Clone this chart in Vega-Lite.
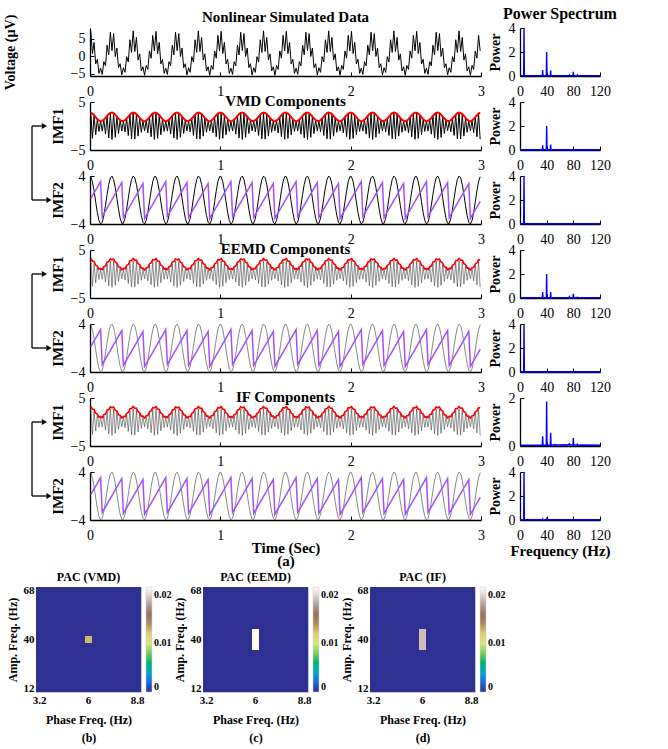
{
"$schema":"https://vega.github.io/schema/vega-lite/v6.json",
"background":"#ffffff",
"padding":{"left":3,"top":6,"right":5,"bottom":2},
"config":{
 "font":"Liberation Serif",
 "view":{"stroke":null},
 "axis":{"domainColor":"#000","domainWidth":1.3,"tickColor":"#000","tickWidth":1,"tickSize":-4,"labelFont":"Liberation Serif","labelFontSize":14,"labelColor":"#000","titleFont":"Liberation Serif","titleFontSize":15,"titleFontWeight":"bold","titleColor":"#000","grid":false,"labelOverlap":false},
 "axisX":{"labelPadding":12,"labelFlush":false,"labelAngle":0},
 "axisY":{"labelPadding":9},
 "title":{"font":"Liberation Serif","fontSize":15,"fontWeight":"bold","color":"#000","frame":"group","anchor":"middle"},
 "legend":{"labelFont":"Liberation Serif","labelFontSize":10,"labelFontWeight":"bold","labelColor":"#000","gradientLength":105,"gradientThickness":6,"offset":5,"padding":0,"gradientStrokeColor":"#cccccc","gradientStrokeWidth":0.5,"labelOffset":3}
},
"datasets":{
"ts":[
{"t":0.00625,"r":7.06,"c":2.78,"e":2.78,"j":3.22,"s":3.89,"p":0.24},
{"t":0.01875,"r":0.76,"c":-2.58,"e":2.58,"j":2.70,"s":3.04,"p":0.71},
{"t":0.03125,"r":3.92,"c":2.24,"e":2.24,"j":2.60,"s":1.53,"p":1.18},
{"t":0.04375,"r":-2.17,"c":-1.83,"e":1.83,"j":1.82,"s":-0.31,"p":1.65},
{"t":0.05625,"r":-0.87,"c":1.43,"e":1.43,"j":1.65,"s":-2.09,"p":2.12},
{"t":0.06875,"r":-4.88,"c":-1.13,"e":1.13,"j":1.01,"s":-3.41,"p":2.59},
{"t":0.08125,"r":-3.39,"c":1.00,"e":1.00,"j":1.15,"s":-3.99,"p":3.06},
{"t":0.09375,"r":-5.14,"c":-1.07,"e":1.07,"j":0.93,"s":-3.70,"p":-2.75},
{"t":0.10625,"r":-1.54,"c":1.32,"e":1.32,"j":1.52,"s":-2.60,"p":-2.28},
{"t":0.11875,"r":-2.71,"c":-1.69,"e":1.69,"j":1.66,"s":-0.93,"p":-1.81},
{"t":0.13125,"r":3.13,"c":2.11,"e":2.11,"j":2.45,"s":0.93,"p":-1.34},
{"t":0.14375,"r":0.38,"c":-2.48,"e":2.48,"j":2.58,"s":2.60,"p":-0.86},
{"t":0.15625,"r":6.80,"c":2.73,"e":2.73,"j":3.17,"s":3.70,"p":-0.39},
{"t":0.16875,"r":1.59,"c":-2.80,"e":2.80,"j":2.95,"s":3.99,"p":0.08},
{"t":0.18125,"r":6.42,"c":2.67,"e":2.67,"j":3.10,"s":3.41,"p":0.55},
{"t":0.19375,"r":-0.07,"c":-2.37,"e":2.37,"j":2.45,"s":2.09,"p":1.02},
{"t":0.20625,"r":2.31,"c":1.97,"e":1.97,"j":2.28,"s":0.31,"p":1.49},
{"t":0.21875,"r":-3.24,"c":-1.56,"e":1.56,"j":1.50,"s":-1.53,"p":1.96},
{"t":0.23125,"r":-2.12,"c":1.22,"e":1.22,"j":1.40,"s":-3.04,"p":2.44},
{"t":0.24375,"r":-5.30,"c":-1.02,"e":1.02,"j":0.88,"s":-3.89,"p":2.91},
{"t":0.25625,"r":-3.26,"c":1.02,"e":1.02,"j":1.18,"s":-3.89,"p":-2.91},
{"t":0.26875,"r":-4.56,"c":-1.22,"e":1.22,"j":1.10,"s":-3.04,"p":-2.44},
{"t":0.28125,"r":-0.12,"c":1.56,"e":1.56,"j":1.80,"s":-1.53,"p":-1.96},
{"t":0.29375,"r":-1.63,"c":-1.97,"e":1.97,"j":1.98,"s":0.31,"p":-1.49},
{"t":0.30625,"r":4.67,"c":2.37,"e":2.37,"j":2.75,"s":2.09,"p":-1.02},
{"t":0.31875,"r":1.08,"c":-2.67,"e":2.67,"j":2.80,"s":3.41,"p":-0.55},
{"t":0.33125,"r":7.19,"c":2.80,"e":2.80,"j":3.25,"s":3.99,"p":-0.08},
{"t":0.34375,"r":1.34,"c":-2.73,"e":2.73,"j":2.87,"s":3.70,"p":0.39},
{"t":0.35625,"r":5.34,"c":2.48,"e":2.48,"j":2.88,"s":2.60,"p":0.86},
{"t":0.36875,"r":-1.09,"c":-2.11,"e":2.11,"j":2.15,"s":0.93,"p":1.34},
{"t":0.38125,"r":0.67,"c":1.69,"e":1.69,"j":1.96,"s":-0.93,"p":1.81},
{"t":0.39375,"r":-4.18,"c":-1.32,"e":1.32,"j":1.22,"s":-2.60,"p":2.28},
{"t":0.40625,"r":-3.00,"c":1.07,"e":1.07,"j":1.23,"s":-3.70,"p":2.75},
{"t":0.41875,"r":-5.39,"c":-1.00,"e":1.00,"j":0.85,"s":-3.99,"p":-3.06},
{"t":0.43125,"r":-2.62,"c":1.13,"e":1.13,"j":1.31,"s":-3.41,"p":-2.59},
{"t":0.44375,"r":-3.73,"c":-1.43,"e":1.43,"j":1.35,"s":-2.09,"p":-2.12},
{"t":0.45625,"r":1.49,"c":1.83,"e":1.83,"j":2.12,"s":-0.31,"p":-1.65},
{"t":0.46875,"r":-0.56,"c":-2.24,"e":2.24,"j":2.30,"s":1.53,"p":-1.18},
{"t":0.48125,"r":5.92,"c":2.58,"e":2.58,"j":3.00,"s":3.04,"p":-0.71},
{"t":0.49375,"r":1.50,"c":-2.78,"e":2.78,"j":2.92,"s":3.89,"p":-0.24},
{"t":0.50625,"r":7.06,"c":2.78,"e":2.78,"j":3.22,"s":3.89,"p":0.24},
{"t":0.51875,"r":0.76,"c":-2.58,"e":2.58,"j":2.70,"s":3.04,"p":0.71},
{"t":0.53125,"r":3.92,"c":2.24,"e":2.24,"j":2.60,"s":1.53,"p":1.18},
{"t":0.54375,"r":-2.17,"c":-1.83,"e":1.83,"j":1.82,"s":-0.31,"p":1.65},
{"t":0.55625,"r":-0.87,"c":1.43,"e":1.43,"j":1.65,"s":-2.09,"p":2.12},
{"t":0.56875,"r":-4.88,"c":-1.13,"e":1.13,"j":1.01,"s":-3.41,"p":2.59},
{"t":0.58125,"r":-3.39,"c":1.00,"e":1.00,"j":1.15,"s":-3.99,"p":3.06},
{"t":0.59375,"r":-5.14,"c":-1.07,"e":1.07,"j":0.93,"s":-3.70,"p":-2.75},
{"t":0.60625,"r":-1.54,"c":1.32,"e":1.32,"j":1.52,"s":-2.60,"p":-2.28},
{"t":0.61875,"r":-2.71,"c":-1.69,"e":1.69,"j":1.66,"s":-0.93,"p":-1.81},
{"t":0.63125,"r":3.13,"c":2.11,"e":2.11,"j":2.45,"s":0.93,"p":-1.34},
{"t":0.64375,"r":0.38,"c":-2.48,"e":2.48,"j":2.58,"s":2.60,"p":-0.86},
{"t":0.65625,"r":6.80,"c":2.73,"e":2.73,"j":3.17,"s":3.70,"p":-0.39},
{"t":0.66875,"r":1.59,"c":-2.80,"e":2.80,"j":2.95,"s":3.99,"p":0.08},
{"t":0.68125,"r":6.42,"c":2.67,"e":2.67,"j":3.10,"s":3.41,"p":0.55},
{"t":0.69375,"r":-0.07,"c":-2.37,"e":2.37,"j":2.45,"s":2.09,"p":1.02},
{"t":0.70625,"r":2.31,"c":1.97,"e":1.97,"j":2.28,"s":0.31,"p":1.49},
{"t":0.71875,"r":-3.24,"c":-1.56,"e":1.56,"j":1.50,"s":-1.53,"p":1.96},
{"t":0.73125,"r":-2.12,"c":1.22,"e":1.22,"j":1.40,"s":-3.04,"p":2.44},
{"t":0.74375,"r":-5.30,"c":-1.02,"e":1.02,"j":0.88,"s":-3.89,"p":2.91},
{"t":0.75625,"r":-3.26,"c":1.02,"e":1.02,"j":1.18,"s":-3.89,"p":-2.91},
{"t":0.76875,"r":-4.56,"c":-1.22,"e":1.22,"j":1.10,"s":-3.04,"p":-2.44},
{"t":0.78125,"r":-0.12,"c":1.56,"e":1.56,"j":1.80,"s":-1.53,"p":-1.96},
{"t":0.79375,"r":-1.63,"c":-1.97,"e":1.97,"j":1.98,"s":0.31,"p":-1.49},
{"t":0.80625,"r":4.67,"c":2.37,"e":2.37,"j":2.75,"s":2.09,"p":-1.02},
{"t":0.81875,"r":1.08,"c":-2.67,"e":2.67,"j":2.80,"s":3.41,"p":-0.55},
{"t":0.83125,"r":7.19,"c":2.80,"e":2.80,"j":3.25,"s":3.99,"p":-0.08},
{"t":0.84375,"r":1.34,"c":-2.73,"e":2.73,"j":2.87,"s":3.70,"p":0.39},
{"t":0.85625,"r":5.34,"c":2.48,"e":2.48,"j":2.88,"s":2.60,"p":0.86},
{"t":0.86875,"r":-1.09,"c":-2.11,"e":2.11,"j":2.15,"s":0.93,"p":1.34},
{"t":0.88125,"r":0.67,"c":1.69,"e":1.69,"j":1.96,"s":-0.93,"p":1.81},
{"t":0.89375,"r":-4.18,"c":-1.32,"e":1.32,"j":1.22,"s":-2.60,"p":2.28},
{"t":0.90625,"r":-3.00,"c":1.07,"e":1.07,"j":1.23,"s":-3.70,"p":2.75},
{"t":0.91875,"r":-5.39,"c":-1.00,"e":1.00,"j":0.85,"s":-3.99,"p":-3.06},
{"t":0.93125,"r":-2.62,"c":1.13,"e":1.13,"j":1.31,"s":-3.41,"p":-2.59},
{"t":0.94375,"r":-3.73,"c":-1.43,"e":1.43,"j":1.35,"s":-2.09,"p":-2.12},
{"t":0.95625,"r":1.49,"c":1.83,"e":1.83,"j":2.12,"s":-0.31,"p":-1.65},
{"t":0.96875,"r":-0.56,"c":-2.24,"e":2.24,"j":2.30,"s":1.53,"p":-1.18},
{"t":0.98125,"r":5.92,"c":2.58,"e":2.58,"j":3.00,"s":3.04,"p":-0.71},
{"t":0.99375,"r":1.50,"c":-2.78,"e":2.78,"j":2.92,"s":3.89,"p":-0.24},
{"t":1.00625,"r":7.06,"c":2.78,"e":2.78,"j":3.22,"s":3.89,"p":0.24},
{"t":1.01875,"r":0.76,"c":-2.58,"e":2.58,"j":2.70,"s":3.04,"p":0.71},
{"t":1.03125,"r":3.92,"c":2.24,"e":2.24,"j":2.60,"s":1.53,"p":1.18},
{"t":1.04375,"r":-2.17,"c":-1.83,"e":1.83,"j":1.82,"s":-0.31,"p":1.65},
{"t":1.05625,"r":-0.87,"c":1.43,"e":1.43,"j":1.65,"s":-2.09,"p":2.12},
{"t":1.06875,"r":-4.88,"c":-1.13,"e":1.13,"j":1.01,"s":-3.41,"p":2.59},
{"t":1.08125,"r":-3.39,"c":1.00,"e":1.00,"j":1.15,"s":-3.99,"p":3.06},
{"t":1.09375,"r":-5.14,"c":-1.07,"e":1.07,"j":0.93,"s":-3.70,"p":-2.75},
{"t":1.10625,"r":-1.54,"c":1.32,"e":1.32,"j":1.52,"s":-2.60,"p":-2.28},
{"t":1.11875,"r":-2.71,"c":-1.69,"e":1.69,"j":1.66,"s":-0.93,"p":-1.81},
{"t":1.13125,"r":3.13,"c":2.11,"e":2.11,"j":2.45,"s":0.93,"p":-1.34},
{"t":1.14375,"r":0.38,"c":-2.48,"e":2.48,"j":2.58,"s":2.60,"p":-0.86},
{"t":1.15625,"r":6.80,"c":2.73,"e":2.73,"j":3.17,"s":3.70,"p":-0.39},
{"t":1.16875,"r":1.59,"c":-2.80,"e":2.80,"j":2.95,"s":3.99,"p":0.08},
{"t":1.18125,"r":6.42,"c":2.67,"e":2.67,"j":3.10,"s":3.41,"p":0.55},
{"t":1.19375,"r":-0.07,"c":-2.37,"e":2.37,"j":2.45,"s":2.09,"p":1.02},
{"t":1.20625,"r":2.31,"c":1.97,"e":1.97,"j":2.28,"s":0.31,"p":1.49},
{"t":1.21875,"r":-3.24,"c":-1.56,"e":1.56,"j":1.50,"s":-1.53,"p":1.96},
{"t":1.23125,"r":-2.12,"c":1.22,"e":1.22,"j":1.40,"s":-3.04,"p":2.44},
{"t":1.24375,"r":-5.30,"c":-1.02,"e":1.02,"j":0.88,"s":-3.89,"p":2.91},
{"t":1.25625,"r":-3.26,"c":1.02,"e":1.02,"j":1.18,"s":-3.89,"p":-2.91},
{"t":1.26875,"r":-4.56,"c":-1.22,"e":1.22,"j":1.10,"s":-3.04,"p":-2.44},
{"t":1.28125,"r":-0.12,"c":1.56,"e":1.56,"j":1.80,"s":-1.53,"p":-1.96},
{"t":1.29375,"r":-1.63,"c":-1.97,"e":1.97,"j":1.98,"s":0.31,"p":-1.49},
{"t":1.30625,"r":4.67,"c":2.37,"e":2.37,"j":2.75,"s":2.09,"p":-1.02},
{"t":1.31875,"r":1.08,"c":-2.67,"e":2.67,"j":2.80,"s":3.41,"p":-0.55},
{"t":1.33125,"r":7.19,"c":2.80,"e":2.80,"j":3.25,"s":3.99,"p":-0.08},
{"t":1.34375,"r":1.34,"c":-2.73,"e":2.73,"j":2.87,"s":3.70,"p":0.39},
{"t":1.35625,"r":5.34,"c":2.48,"e":2.48,"j":2.88,"s":2.60,"p":0.86},
{"t":1.36875,"r":-1.09,"c":-2.11,"e":2.11,"j":2.15,"s":0.93,"p":1.34},
{"t":1.38125,"r":0.67,"c":1.69,"e":1.69,"j":1.96,"s":-0.93,"p":1.81},
{"t":1.39375,"r":-4.18,"c":-1.32,"e":1.32,"j":1.22,"s":-2.60,"p":2.28},
{"t":1.40625,"r":-3.00,"c":1.07,"e":1.07,"j":1.23,"s":-3.70,"p":2.75},
{"t":1.41875,"r":-5.39,"c":-1.00,"e":1.00,"j":0.85,"s":-3.99,"p":-3.06},
{"t":1.43125,"r":-2.62,"c":1.13,"e":1.13,"j":1.31,"s":-3.41,"p":-2.59},
{"t":1.44375,"r":-3.73,"c":-1.43,"e":1.43,"j":1.35,"s":-2.09,"p":-2.12},
{"t":1.45625,"r":1.49,"c":1.83,"e":1.83,"j":2.12,"s":-0.31,"p":-1.65},
{"t":1.46875,"r":-0.56,"c":-2.24,"e":2.24,"j":2.30,"s":1.53,"p":-1.18},
{"t":1.48125,"r":5.92,"c":2.58,"e":2.58,"j":3.00,"s":3.04,"p":-0.71},
{"t":1.49375,"r":1.50,"c":-2.78,"e":2.78,"j":2.92,"s":3.89,"p":-0.24},
{"t":1.50625,"r":7.06,"c":2.78,"e":2.78,"j":3.22,"s":3.89,"p":0.24},
{"t":1.51875,"r":0.76,"c":-2.58,"e":2.58,"j":2.70,"s":3.04,"p":0.71},
{"t":1.53125,"r":3.92,"c":2.24,"e":2.24,"j":2.60,"s":1.53,"p":1.18},
{"t":1.54375,"r":-2.17,"c":-1.83,"e":1.83,"j":1.82,"s":-0.31,"p":1.65},
{"t":1.55625,"r":-0.87,"c":1.43,"e":1.43,"j":1.65,"s":-2.09,"p":2.12},
{"t":1.56875,"r":-4.88,"c":-1.13,"e":1.13,"j":1.01,"s":-3.41,"p":2.59},
{"t":1.58125,"r":-3.39,"c":1.00,"e":1.00,"j":1.15,"s":-3.99,"p":3.06},
{"t":1.59375,"r":-5.14,"c":-1.07,"e":1.07,"j":0.93,"s":-3.70,"p":-2.75},
{"t":1.60625,"r":-1.54,"c":1.32,"e":1.32,"j":1.52,"s":-2.60,"p":-2.28},
{"t":1.61875,"r":-2.71,"c":-1.69,"e":1.69,"j":1.66,"s":-0.93,"p":-1.81},
{"t":1.63125,"r":3.13,"c":2.11,"e":2.11,"j":2.45,"s":0.93,"p":-1.34},
{"t":1.64375,"r":0.38,"c":-2.48,"e":2.48,"j":2.58,"s":2.60,"p":-0.86},
{"t":1.65625,"r":6.80,"c":2.73,"e":2.73,"j":3.17,"s":3.70,"p":-0.39},
{"t":1.66875,"r":1.59,"c":-2.80,"e":2.80,"j":2.95,"s":3.99,"p":0.08},
{"t":1.68125,"r":6.42,"c":2.67,"e":2.67,"j":3.10,"s":3.41,"p":0.55},
{"t":1.69375,"r":-0.07,"c":-2.37,"e":2.37,"j":2.45,"s":2.09,"p":1.02},
{"t":1.70625,"r":2.31,"c":1.97,"e":1.97,"j":2.28,"s":0.31,"p":1.49},
{"t":1.71875,"r":-3.24,"c":-1.56,"e":1.56,"j":1.50,"s":-1.53,"p":1.96},
{"t":1.73125,"r":-2.12,"c":1.22,"e":1.22,"j":1.40,"s":-3.04,"p":2.44},
{"t":1.74375,"r":-5.30,"c":-1.02,"e":1.02,"j":0.88,"s":-3.89,"p":2.91},
{"t":1.75625,"r":-3.26,"c":1.02,"e":1.02,"j":1.18,"s":-3.89,"p":-2.91},
{"t":1.76875,"r":-4.56,"c":-1.22,"e":1.22,"j":1.10,"s":-3.04,"p":-2.44},
{"t":1.78125,"r":-0.12,"c":1.56,"e":1.56,"j":1.80,"s":-1.53,"p":-1.96},
{"t":1.79375,"r":-1.63,"c":-1.97,"e":1.97,"j":1.98,"s":0.31,"p":-1.49},
{"t":1.80625,"r":4.67,"c":2.37,"e":2.37,"j":2.75,"s":2.09,"p":-1.02},
{"t":1.81875,"r":1.08,"c":-2.67,"e":2.67,"j":2.80,"s":3.41,"p":-0.55},
{"t":1.83125,"r":7.19,"c":2.80,"e":2.80,"j":3.25,"s":3.99,"p":-0.08},
{"t":1.84375,"r":1.34,"c":-2.73,"e":2.73,"j":2.87,"s":3.70,"p":0.39},
{"t":1.85625,"r":5.34,"c":2.48,"e":2.48,"j":2.88,"s":2.60,"p":0.86},
{"t":1.86875,"r":-1.09,"c":-2.11,"e":2.11,"j":2.15,"s":0.93,"p":1.34},
{"t":1.88125,"r":0.67,"c":1.69,"e":1.69,"j":1.96,"s":-0.93,"p":1.81},
{"t":1.89375,"r":-4.18,"c":-1.32,"e":1.32,"j":1.22,"s":-2.60,"p":2.28},
{"t":1.90625,"r":-3.00,"c":1.07,"e":1.07,"j":1.23,"s":-3.70,"p":2.75},
{"t":1.91875,"r":-5.39,"c":-1.00,"e":1.00,"j":0.85,"s":-3.99,"p":-3.06},
{"t":1.93125,"r":-2.62,"c":1.13,"e":1.13,"j":1.31,"s":-3.41,"p":-2.59},
{"t":1.94375,"r":-3.73,"c":-1.43,"e":1.43,"j":1.35,"s":-2.09,"p":-2.12},
{"t":1.95625,"r":1.49,"c":1.83,"e":1.83,"j":2.12,"s":-0.31,"p":-1.65},
{"t":1.96875,"r":-0.56,"c":-2.24,"e":2.24,"j":2.30,"s":1.53,"p":-1.18},
{"t":1.98125,"r":5.92,"c":2.58,"e":2.58,"j":3.00,"s":3.04,"p":-0.71},
{"t":1.99375,"r":1.50,"c":-2.78,"e":2.78,"j":2.92,"s":3.89,"p":-0.24},
{"t":2.00625,"r":7.06,"c":2.78,"e":2.78,"j":3.22,"s":3.89,"p":0.24},
{"t":2.01875,"r":0.76,"c":-2.58,"e":2.58,"j":2.70,"s":3.04,"p":0.71},
{"t":2.03125,"r":3.92,"c":2.24,"e":2.24,"j":2.60,"s":1.53,"p":1.18},
{"t":2.04375,"r":-2.17,"c":-1.83,"e":1.83,"j":1.82,"s":-0.31,"p":1.65},
{"t":2.05625,"r":-0.87,"c":1.43,"e":1.43,"j":1.65,"s":-2.09,"p":2.12},
{"t":2.06875,"r":-4.88,"c":-1.13,"e":1.13,"j":1.01,"s":-3.41,"p":2.59},
{"t":2.08125,"r":-3.39,"c":1.00,"e":1.00,"j":1.15,"s":-3.99,"p":3.06},
{"t":2.09375,"r":-5.14,"c":-1.07,"e":1.07,"j":0.93,"s":-3.70,"p":-2.75},
{"t":2.10625,"r":-1.54,"c":1.32,"e":1.32,"j":1.52,"s":-2.60,"p":-2.28},
{"t":2.11875,"r":-2.71,"c":-1.69,"e":1.69,"j":1.66,"s":-0.93,"p":-1.81},
{"t":2.13125,"r":3.13,"c":2.11,"e":2.11,"j":2.45,"s":0.93,"p":-1.34},
{"t":2.14375,"r":0.38,"c":-2.48,"e":2.48,"j":2.58,"s":2.60,"p":-0.86},
{"t":2.15625,"r":6.80,"c":2.73,"e":2.73,"j":3.17,"s":3.70,"p":-0.39},
{"t":2.16875,"r":1.59,"c":-2.80,"e":2.80,"j":2.95,"s":3.99,"p":0.08},
{"t":2.18125,"r":6.42,"c":2.67,"e":2.67,"j":3.10,"s":3.41,"p":0.55},
{"t":2.19375,"r":-0.07,"c":-2.37,"e":2.37,"j":2.45,"s":2.09,"p":1.02},
{"t":2.20625,"r":2.31,"c":1.97,"e":1.97,"j":2.28,"s":0.31,"p":1.49},
{"t":2.21875,"r":-3.24,"c":-1.56,"e":1.56,"j":1.50,"s":-1.53,"p":1.96},
{"t":2.23125,"r":-2.12,"c":1.22,"e":1.22,"j":1.40,"s":-3.04,"p":2.44},
{"t":2.24375,"r":-5.30,"c":-1.02,"e":1.02,"j":0.88,"s":-3.89,"p":2.91},
{"t":2.25625,"r":-3.26,"c":1.02,"e":1.02,"j":1.18,"s":-3.89,"p":-2.91},
{"t":2.26875,"r":-4.56,"c":-1.22,"e":1.22,"j":1.10,"s":-3.04,"p":-2.44},
{"t":2.28125,"r":-0.12,"c":1.56,"e":1.56,"j":1.80,"s":-1.53,"p":-1.96},
{"t":2.29375,"r":-1.63,"c":-1.97,"e":1.97,"j":1.98,"s":0.31,"p":-1.49},
{"t":2.30625,"r":4.67,"c":2.37,"e":2.37,"j":2.75,"s":2.09,"p":-1.02},
{"t":2.31875,"r":1.08,"c":-2.67,"e":2.67,"j":2.80,"s":3.41,"p":-0.55},
{"t":2.33125,"r":7.19,"c":2.80,"e":2.80,"j":3.25,"s":3.99,"p":-0.08},
{"t":2.34375,"r":1.34,"c":-2.73,"e":2.73,"j":2.87,"s":3.70,"p":0.39},
{"t":2.35625,"r":5.34,"c":2.48,"e":2.48,"j":2.88,"s":2.60,"p":0.86},
{"t":2.36875,"r":-1.09,"c":-2.11,"e":2.11,"j":2.15,"s":0.93,"p":1.34},
{"t":2.38125,"r":0.67,"c":1.69,"e":1.69,"j":1.96,"s":-0.93,"p":1.81},
{"t":2.39375,"r":-4.18,"c":-1.32,"e":1.32,"j":1.22,"s":-2.60,"p":2.28},
{"t":2.40625,"r":-3.00,"c":1.07,"e":1.07,"j":1.23,"s":-3.70,"p":2.75},
{"t":2.41875,"r":-5.39,"c":-1.00,"e":1.00,"j":0.85,"s":-3.99,"p":-3.06},
{"t":2.43125,"r":-2.62,"c":1.13,"e":1.13,"j":1.31,"s":-3.41,"p":-2.59},
{"t":2.44375,"r":-3.73,"c":-1.43,"e":1.43,"j":1.35,"s":-2.09,"p":-2.12},
{"t":2.45625,"r":1.49,"c":1.83,"e":1.83,"j":2.12,"s":-0.31,"p":-1.65},
{"t":2.46875,"r":-0.56,"c":-2.24,"e":2.24,"j":2.30,"s":1.53,"p":-1.18},
{"t":2.48125,"r":5.92,"c":2.58,"e":2.58,"j":3.00,"s":3.04,"p":-0.71},
{"t":2.49375,"r":1.50,"c":-2.78,"e":2.78,"j":2.92,"s":3.89,"p":-0.24},
{"t":2.50625,"r":7.06,"c":2.78,"e":2.78,"j":3.22,"s":3.89,"p":0.24},
{"t":2.51875,"r":0.76,"c":-2.58,"e":2.58,"j":2.70,"s":3.04,"p":0.71},
{"t":2.53125,"r":3.92,"c":2.24,"e":2.24,"j":2.60,"s":1.53,"p":1.18},
{"t":2.54375,"r":-2.17,"c":-1.83,"e":1.83,"j":1.82,"s":-0.31,"p":1.65},
{"t":2.55625,"r":-0.87,"c":1.43,"e":1.43,"j":1.65,"s":-2.09,"p":2.12},
{"t":2.56875,"r":-4.88,"c":-1.13,"e":1.13,"j":1.01,"s":-3.41,"p":2.59},
{"t":2.58125,"r":-3.39,"c":1.00,"e":1.00,"j":1.15,"s":-3.99,"p":3.06},
{"t":2.59375,"r":-5.14,"c":-1.07,"e":1.07,"j":0.93,"s":-3.70,"p":-2.75},
{"t":2.60625,"r":-1.54,"c":1.32,"e":1.32,"j":1.52,"s":-2.60,"p":-2.28},
{"t":2.61875,"r":-2.71,"c":-1.69,"e":1.69,"j":1.66,"s":-0.93,"p":-1.81},
{"t":2.63125,"r":3.13,"c":2.11,"e":2.11,"j":2.45,"s":0.93,"p":-1.34},
{"t":2.64375,"r":0.38,"c":-2.48,"e":2.48,"j":2.58,"s":2.60,"p":-0.86},
{"t":2.65625,"r":6.80,"c":2.73,"e":2.73,"j":3.17,"s":3.70,"p":-0.39},
{"t":2.66875,"r":1.59,"c":-2.80,"e":2.80,"j":2.95,"s":3.99,"p":0.08},
{"t":2.68125,"r":6.42,"c":2.67,"e":2.67,"j":3.10,"s":3.41,"p":0.55},
{"t":2.69375,"r":-0.07,"c":-2.37,"e":2.37,"j":2.45,"s":2.09,"p":1.02},
{"t":2.70625,"r":2.31,"c":1.97,"e":1.97,"j":2.28,"s":0.31,"p":1.49},
{"t":2.71875,"r":-3.24,"c":-1.56,"e":1.56,"j":1.50,"s":-1.53,"p":1.96},
{"t":2.73125,"r":-2.12,"c":1.22,"e":1.22,"j":1.40,"s":-3.04,"p":2.44},
{"t":2.74375,"r":-5.30,"c":-1.02,"e":1.02,"j":0.88,"s":-3.89,"p":2.91},
{"t":2.75625,"r":-3.26,"c":1.02,"e":1.02,"j":1.18,"s":-3.89,"p":-2.91},
{"t":2.76875,"r":-4.56,"c":-1.22,"e":1.22,"j":1.10,"s":-3.04,"p":-2.44},
{"t":2.78125,"r":-0.12,"c":1.56,"e":1.56,"j":1.80,"s":-1.53,"p":-1.96},
{"t":2.79375,"r":-1.63,"c":-1.97,"e":1.97,"j":1.98,"s":0.31,"p":-1.49},
{"t":2.80625,"r":4.67,"c":2.37,"e":2.37,"j":2.75,"s":2.09,"p":-1.02},
{"t":2.81875,"r":1.08,"c":-2.67,"e":2.67,"j":2.80,"s":3.41,"p":-0.55},
{"t":2.83125,"r":7.19,"c":2.80,"e":2.80,"j":3.25,"s":3.99,"p":-0.08},
{"t":2.84375,"r":1.34,"c":-2.73,"e":2.73,"j":2.87,"s":3.70,"p":0.39},
{"t":2.85625,"r":5.34,"c":2.48,"e":2.48,"j":2.88,"s":2.60,"p":0.86},
{"t":2.86875,"r":-1.09,"c":-2.11,"e":2.11,"j":2.15,"s":0.93,"p":1.34},
{"t":2.88125,"r":0.67,"c":1.69,"e":1.69,"j":1.96,"s":-0.93,"p":1.81},
{"t":2.89375,"r":-4.18,"c":-1.32,"e":1.32,"j":1.22,"s":-2.60,"p":2.28},
{"t":2.90625,"r":-3.00,"c":1.07,"e":1.07,"j":1.23,"s":-3.70,"p":2.75},
{"t":2.91875,"r":-5.39,"c":-1.00,"e":1.00,"j":0.85,"s":-3.99,"p":-3.06},
{"t":2.93125,"r":-2.62,"c":1.13,"e":1.13,"j":1.31,"s":-3.41,"p":-2.59},
{"t":2.94375,"r":-3.73,"c":-1.43,"e":1.43,"j":1.35,"s":-2.09,"p":-2.12},
{"t":2.95625,"r":1.49,"c":1.83,"e":1.83,"j":2.12,"s":-0.31,"p":-1.65},
{"t":2.96875,"r":-0.56,"c":-2.24,"e":2.24,"j":2.30,"s":1.53,"p":-1.18},
{"t":2.98125,"r":5.92,"c":2.58,"e":2.58,"j":3.00,"s":3.04,"p":-0.71},
{"t":2.99375,"r":1.50,"c":-2.78,"e":2.78,"j":2.92,"s":3.89,"p":-0.24}
],
"sp":[
{"g":1,"f":0,"v":0.03},{"g":1,"f":5.5,"v":0.03},{"g":1,"f":6,"v":4},{"g":1,"f":6.5,"v":0.03},{"g":1,"f":33.5,"v":0.03},{"g":1,"f":34,"v":0.5},{"g":1,"f":34.5,"v":0.03},{"g":1,"f":39.5,"v":0.03},{"g":1,"f":40,"v":2},{"g":1,"f":40.5,"v":0.03},{"g":1,"f":45.5,"v":0.03},{"g":1,"f":46,"v":0.45},{"g":1,"f":46.5,"v":0.03},{"g":1,"f":73.5,"v":0.03},{"g":1,"f":74,"v":0.08},{"g":1,"f":74.5,"v":0.03},{"g":1,"f":79.5,"v":0.03},{"g":1,"f":80,"v":0.35},{"g":1,"f":80.5,"v":0.03},{"g":1,"f":85.5,"v":0.03},{"g":1,"f":86,"v":0.08},{"g":1,"f":86.5,"v":0.03},{"g":1,"f":120,"v":0.03},
{"g":2,"f":0,"v":0.02},{"g":2,"f":33.5,"v":0.02},{"g":2,"f":34,"v":0.4},{"g":2,"f":34.5,"v":0.02},{"g":2,"f":39.5,"v":0.02},{"g":2,"f":40,"v":2},{"g":2,"f":40.5,"v":0.02},{"g":2,"f":45.5,"v":0.02},{"g":2,"f":46,"v":0.45},{"g":2,"f":46.5,"v":0.02},{"g":2,"f":79.5,"v":0.02},{"g":2,"f":80,"v":0.05},{"g":2,"f":80.5,"v":0.02},{"g":2,"f":120,"v":0.02},
{"g":3,"f":0,"v":0.02},{"g":3,"f":5.5,"v":0.02},{"g":3,"f":6,"v":4},{"g":3,"f":6.5,"v":0.02},{"g":3,"f":120,"v":0.02},
{"g":4,"f":0,"v":0.03},{"g":4,"f":33.5,"v":0.03},{"g":4,"f":34,"v":0.5},{"g":4,"f":34.5,"v":0.03},{"g":4,"f":39.5,"v":0.03},{"g":4,"f":40,"v":2},{"g":4,"f":40.5,"v":0.03},{"g":4,"f":45.5,"v":0.03},{"g":4,"f":46,"v":0.5},{"g":4,"f":46.5,"v":0.03},{"g":4,"f":73.5,"v":0.03},{"g":4,"f":74,"v":0.1},{"g":4,"f":74.5,"v":0.03},{"g":4,"f":79.5,"v":0.03},{"g":4,"f":80,"v":0.35},{"g":4,"f":80.5,"v":0.03},{"g":4,"f":85.5,"v":0.03},{"g":4,"f":86,"v":0.06},{"g":4,"f":86.5,"v":0.03},{"g":4,"f":120,"v":0.03},
{"g":5,"f":0,"v":0.02},{"g":5,"f":5.5,"v":0.02},{"g":5,"f":6,"v":4},{"g":5,"f":6.5,"v":0.02},{"g":5,"f":120,"v":0.02},
{"g":6,"f":0,"v":0.03},{"g":6,"f":33.5,"v":0.03},{"g":6,"f":34,"v":0.4},{"g":6,"f":34.5,"v":0.03},{"g":6,"f":39.5,"v":0.03},{"g":6,"f":40,"v":1.85},{"g":6,"f":40.5,"v":0.03},{"g":6,"f":45.5,"v":0.03},{"g":6,"f":46,"v":0.55},{"g":6,"f":46.5,"v":0.03},{"g":6,"f":52,"v":0.05},{"g":6,"f":58,"v":0.04},{"g":6,"f":68,"v":0.05},{"g":6,"f":73.5,"v":0.04},{"g":6,"f":74,"v":0.12},{"g":6,"f":74.5,"v":0.04},{"g":6,"f":79.5,"v":0.04},{"g":6,"f":80,"v":0.33},{"g":6,"f":80.5,"v":0.04},{"g":6,"f":85.5,"v":0.04},{"g":6,"f":86,"v":0.1},{"g":6,"f":86.5,"v":0.03},{"g":6,"f":92,"v":0.04},{"g":6,"f":120,"v":0.03},
{"g":7,"f":0,"v":0.02},{"g":7,"f":5.5,"v":0.02},{"g":7,"f":6,"v":4},{"g":7,"f":6.5,"v":0.02},{"g":7,"f":33.5,"v":0.02},{"g":7,"f":34,"v":0.08},{"g":7,"f":34.5,"v":0.02},{"g":7,"f":39.5,"v":0.02},{"g":7,"f":40,"v":0.1},{"g":7,"f":40.5,"v":0.02},{"g":7,"f":79.5,"v":0.02},{"g":7,"f":80,"v":0.04},{"g":7,"f":80.5,"v":0.02},{"g":7,"f":120,"v":0.02}
],
"pac":[
{"x":3.2,"y":12,"a":0,"b":0,"c":0},{"x":3.2,"y":16,"a":0,"b":0,"c":0},{"x":3.2,"y":20,"a":0,"b":0,"c":0},{"x":3.2,"y":24,"a":0,"b":0,"c":0},{"x":3.2,"y":28,"a":0,"b":0,"c":0},{"x":3.2,"y":32,"a":0,"b":0,"c":0},{"x":3.2,"y":36,"a":0,"b":0,"c":0},{"x":3.2,"y":40,"a":0,"b":0,"c":0},{"x":3.2,"y":44,"a":0,"b":0,"c":0},{"x":3.2,"y":48,"a":0,"b":0,"c":0},{"x":3.2,"y":52,"a":0,"b":0,"c":0},{"x":3.2,"y":56,"a":0,"b":0,"c":0},{"x":3.2,"y":60,"a":0,"b":0,"c":0},{"x":3.2,"y":64,"a":0,"b":0,"c":0},{"x":3.2,"y":68,"a":0,"b":0,"c":0},
{"x":3.6,"y":12,"a":0,"b":0,"c":0},{"x":3.6,"y":16,"a":0,"b":0,"c":0},{"x":3.6,"y":20,"a":0,"b":0,"c":0},{"x":3.6,"y":24,"a":0,"b":0,"c":0},{"x":3.6,"y":28,"a":0,"b":0,"c":0},{"x":3.6,"y":32,"a":0,"b":0,"c":0},{"x":3.6,"y":36,"a":0,"b":0,"c":0},{"x":3.6,"y":40,"a":0,"b":0,"c":0},{"x":3.6,"y":44,"a":0,"b":0,"c":0},{"x":3.6,"y":48,"a":0,"b":0,"c":0},{"x":3.6,"y":52,"a":0,"b":0,"c":0},{"x":3.6,"y":56,"a":0,"b":0,"c":0},{"x":3.6,"y":60,"a":0,"b":0,"c":0},{"x":3.6,"y":64,"a":0,"b":0,"c":0},{"x":3.6,"y":68,"a":0,"b":0,"c":0},
{"x":4.0,"y":12,"a":0,"b":0,"c":0},{"x":4.0,"y":16,"a":0,"b":0,"c":0},{"x":4.0,"y":20,"a":0,"b":0,"c":0},{"x":4.0,"y":24,"a":0,"b":0,"c":0},{"x":4.0,"y":28,"a":0,"b":0,"c":0},{"x":4.0,"y":32,"a":0,"b":0,"c":0},{"x":4.0,"y":36,"a":0,"b":0,"c":0},{"x":4.0,"y":40,"a":0,"b":0,"c":0},{"x":4.0,"y":44,"a":0,"b":0,"c":0},{"x":4.0,"y":48,"a":0,"b":0,"c":0},{"x":4.0,"y":52,"a":0,"b":0,"c":0},{"x":4.0,"y":56,"a":0,"b":0,"c":0},{"x":4.0,"y":60,"a":0,"b":0,"c":0},{"x":4.0,"y":64,"a":0,"b":0,"c":0},{"x":4.0,"y":68,"a":0,"b":0,"c":0},
{"x":4.4,"y":12,"a":0,"b":0,"c":0},{"x":4.4,"y":16,"a":0,"b":0,"c":0},{"x":4.4,"y":20,"a":0,"b":0,"c":0},{"x":4.4,"y":24,"a":0,"b":0,"c":0},{"x":4.4,"y":28,"a":0,"b":0,"c":0},{"x":4.4,"y":32,"a":0,"b":0,"c":0},{"x":4.4,"y":36,"a":0,"b":0,"c":0},{"x":4.4,"y":40,"a":0,"b":0,"c":0},{"x":4.4,"y":44,"a":0,"b":0,"c":0},{"x":4.4,"y":48,"a":0,"b":0,"c":0},{"x":4.4,"y":52,"a":0,"b":0,"c":0},{"x":4.4,"y":56,"a":0,"b":0,"c":0},{"x":4.4,"y":60,"a":0,"b":0,"c":0},{"x":4.4,"y":64,"a":0,"b":0,"c":0},{"x":4.4,"y":68,"a":0,"b":0,"c":0},
{"x":4.8,"y":12,"a":0,"b":0,"c":0},{"x":4.8,"y":16,"a":0,"b":0,"c":0},{"x":4.8,"y":20,"a":0,"b":0,"c":0},{"x":4.8,"y":24,"a":0,"b":0,"c":0},{"x":4.8,"y":28,"a":0,"b":0,"c":0},{"x":4.8,"y":32,"a":0,"b":0,"c":0},{"x":4.8,"y":36,"a":0,"b":0,"c":0},{"x":4.8,"y":40,"a":0,"b":0,"c":0},{"x":4.8,"y":44,"a":0,"b":0,"c":0},{"x":4.8,"y":48,"a":0,"b":0,"c":0},{"x":4.8,"y":52,"a":0,"b":0,"c":0},{"x":4.8,"y":56,"a":0,"b":0,"c":0},{"x":4.8,"y":60,"a":0,"b":0,"c":0},{"x":4.8,"y":64,"a":0,"b":0,"c":0},{"x":4.8,"y":68,"a":0,"b":0,"c":0},
{"x":5.2,"y":12,"a":0,"b":0,"c":0},{"x":5.2,"y":16,"a":0,"b":0,"c":0},{"x":5.2,"y":20,"a":0,"b":0,"c":0},{"x":5.2,"y":24,"a":0,"b":0,"c":0},{"x":5.2,"y":28,"a":0,"b":0,"c":0},{"x":5.2,"y":32,"a":0,"b":0,"c":0},{"x":5.2,"y":36,"a":0,"b":0,"c":0},{"x":5.2,"y":40,"a":0,"b":0,"c":0},{"x":5.2,"y":44,"a":0,"b":0,"c":0},{"x":5.2,"y":48,"a":0,"b":0,"c":0},{"x":5.2,"y":52,"a":0,"b":0,"c":0},{"x":5.2,"y":56,"a":0,"b":0,"c":0},{"x":5.2,"y":60,"a":0,"b":0,"c":0},{"x":5.2,"y":64,"a":0,"b":0,"c":0},{"x":5.2,"y":68,"a":0,"b":0,"c":0},
{"x":5.6,"y":12,"a":0,"b":0,"c":0},{"x":5.6,"y":16,"a":0,"b":0,"c":0},{"x":5.6,"y":20,"a":0,"b":0,"c":0},{"x":5.6,"y":24,"a":0,"b":0,"c":0},{"x":5.6,"y":28,"a":0,"b":0,"c":0},{"x":5.6,"y":32,"a":0,"b":0,"c":0},{"x":5.6,"y":36,"a":0,"b":0,"c":0},{"x":5.6,"y":40,"a":0,"b":0,"c":0},{"x":5.6,"y":44,"a":0,"b":0,"c":0},{"x":5.6,"y":48,"a":0,"b":0,"c":0},{"x":5.6,"y":52,"a":0,"b":0,"c":0},{"x":5.6,"y":56,"a":0,"b":0,"c":0},{"x":5.6,"y":60,"a":0,"b":0,"c":0},{"x":5.6,"y":64,"a":0,"b":0,"c":0},{"x":5.6,"y":68,"a":0,"b":0,"c":0},
{"x":6.0,"y":12,"a":0,"b":0,"c":0},{"x":6.0,"y":16,"a":0,"b":0,"c":0},{"x":6.0,"y":20,"a":0,"b":0,"c":0},{"x":6.0,"y":24,"a":0,"b":0,"c":0},{"x":6.0,"y":28,"a":0,"b":0,"c":0},{"x":6.0,"y":32,"a":0,"b":0,"c":0},{"x":6.0,"y":36,"a":0,"b":0.0216,"c":0.019},{"x":6.0,"y":40,"a":0.0128,"b":0.0216,"c":0.019},{"x":6.0,"y":44,"a":0,"b":0.0216,"c":0.019},{"x":6.0,"y":48,"a":0,"b":0,"c":0},{"x":6.0,"y":52,"a":0,"b":0,"c":0},{"x":6.0,"y":56,"a":0,"b":0,"c":0},{"x":6.0,"y":60,"a":0,"b":0,"c":0},{"x":6.0,"y":64,"a":0,"b":0,"c":0},{"x":6.0,"y":68,"a":0,"b":0,"c":0},
{"x":6.4,"y":12,"a":0,"b":0,"c":0},{"x":6.4,"y":16,"a":0,"b":0,"c":0},{"x":6.4,"y":20,"a":0,"b":0,"c":0},{"x":6.4,"y":24,"a":0,"b":0,"c":0},{"x":6.4,"y":28,"a":0,"b":0,"c":0},{"x":6.4,"y":32,"a":0,"b":0,"c":0},{"x":6.4,"y":36,"a":0,"b":0,"c":0},{"x":6.4,"y":40,"a":0,"b":0,"c":0},{"x":6.4,"y":44,"a":0,"b":0,"c":0},{"x":6.4,"y":48,"a":0,"b":0,"c":0},{"x":6.4,"y":52,"a":0,"b":0,"c":0},{"x":6.4,"y":56,"a":0,"b":0,"c":0},{"x":6.4,"y":60,"a":0,"b":0,"c":0},{"x":6.4,"y":64,"a":0,"b":0,"c":0},{"x":6.4,"y":68,"a":0,"b":0,"c":0},
{"x":6.8,"y":12,"a":0,"b":0,"c":0},{"x":6.8,"y":16,"a":0,"b":0,"c":0},{"x":6.8,"y":20,"a":0,"b":0,"c":0},{"x":6.8,"y":24,"a":0,"b":0,"c":0},{"x":6.8,"y":28,"a":0,"b":0,"c":0},{"x":6.8,"y":32,"a":0,"b":0,"c":0},{"x":6.8,"y":36,"a":0,"b":0,"c":0},{"x":6.8,"y":40,"a":0,"b":0,"c":0},{"x":6.8,"y":44,"a":0,"b":0,"c":0},{"x":6.8,"y":48,"a":0,"b":0,"c":0},{"x":6.8,"y":52,"a":0,"b":0,"c":0},{"x":6.8,"y":56,"a":0,"b":0,"c":0},{"x":6.8,"y":60,"a":0,"b":0,"c":0},{"x":6.8,"y":64,"a":0,"b":0,"c":0},{"x":6.8,"y":68,"a":0,"b":0,"c":0},
{"x":7.2,"y":12,"a":0,"b":0,"c":0},{"x":7.2,"y":16,"a":0,"b":0,"c":0},{"x":7.2,"y":20,"a":0,"b":0,"c":0},{"x":7.2,"y":24,"a":0,"b":0,"c":0},{"x":7.2,"y":28,"a":0,"b":0,"c":0},{"x":7.2,"y":32,"a":0,"b":0,"c":0},{"x":7.2,"y":36,"a":0,"b":0,"c":0},{"x":7.2,"y":40,"a":0,"b":0,"c":0},{"x":7.2,"y":44,"a":0,"b":0,"c":0},{"x":7.2,"y":48,"a":0,"b":0,"c":0},{"x":7.2,"y":52,"a":0,"b":0,"c":0},{"x":7.2,"y":56,"a":0,"b":0,"c":0},{"x":7.2,"y":60,"a":0,"b":0,"c":0},{"x":7.2,"y":64,"a":0,"b":0,"c":0},{"x":7.2,"y":68,"a":0,"b":0,"c":0},
{"x":7.6,"y":12,"a":0,"b":0,"c":0},{"x":7.6,"y":16,"a":0,"b":0,"c":0},{"x":7.6,"y":20,"a":0,"b":0,"c":0},{"x":7.6,"y":24,"a":0,"b":0,"c":0},{"x":7.6,"y":28,"a":0,"b":0,"c":0},{"x":7.6,"y":32,"a":0,"b":0,"c":0},{"x":7.6,"y":36,"a":0,"b":0,"c":0},{"x":7.6,"y":40,"a":0,"b":0,"c":0},{"x":7.6,"y":44,"a":0,"b":0,"c":0},{"x":7.6,"y":48,"a":0,"b":0,"c":0},{"x":7.6,"y":52,"a":0,"b":0,"c":0},{"x":7.6,"y":56,"a":0,"b":0,"c":0},{"x":7.6,"y":60,"a":0,"b":0,"c":0},{"x":7.6,"y":64,"a":0,"b":0,"c":0},{"x":7.6,"y":68,"a":0,"b":0,"c":0},
{"x":8.0,"y":12,"a":0,"b":0,"c":0},{"x":8.0,"y":16,"a":0,"b":0,"c":0},{"x":8.0,"y":20,"a":0,"b":0,"c":0},{"x":8.0,"y":24,"a":0,"b":0,"c":0},{"x":8.0,"y":28,"a":0,"b":0,"c":0},{"x":8.0,"y":32,"a":0,"b":0,"c":0},{"x":8.0,"y":36,"a":0,"b":0,"c":0},{"x":8.0,"y":40,"a":0,"b":0,"c":0},{"x":8.0,"y":44,"a":0,"b":0,"c":0},{"x":8.0,"y":48,"a":0,"b":0,"c":0},{"x":8.0,"y":52,"a":0,"b":0,"c":0},{"x":8.0,"y":56,"a":0,"b":0,"c":0},{"x":8.0,"y":60,"a":0,"b":0,"c":0},{"x":8.0,"y":64,"a":0,"b":0,"c":0},{"x":8.0,"y":68,"a":0,"b":0,"c":0},
{"x":8.4,"y":12,"a":0,"b":0,"c":0},{"x":8.4,"y":16,"a":0,"b":0,"c":0},{"x":8.4,"y":20,"a":0,"b":0,"c":0},{"x":8.4,"y":24,"a":0,"b":0,"c":0},{"x":8.4,"y":28,"a":0,"b":0,"c":0},{"x":8.4,"y":32,"a":0,"b":0,"c":0},{"x":8.4,"y":36,"a":0,"b":0,"c":0},{"x":8.4,"y":40,"a":0,"b":0,"c":0},{"x":8.4,"y":44,"a":0,"b":0,"c":0},{"x":8.4,"y":48,"a":0,"b":0,"c":0},{"x":8.4,"y":52,"a":0,"b":0,"c":0},{"x":8.4,"y":56,"a":0,"b":0,"c":0},{"x":8.4,"y":60,"a":0,"b":0,"c":0},{"x":8.4,"y":64,"a":0,"b":0,"c":0},{"x":8.4,"y":68,"a":0,"b":0,"c":0},
{"x":8.8,"y":12,"a":0,"b":0,"c":0},{"x":8.8,"y":16,"a":0,"b":0,"c":0},{"x":8.8,"y":20,"a":0,"b":0,"c":0},{"x":8.8,"y":24,"a":0,"b":0,"c":0},{"x":8.8,"y":28,"a":0,"b":0,"c":0},{"x":8.8,"y":32,"a":0,"b":0,"c":0},{"x":8.8,"y":36,"a":0,"b":0,"c":0},{"x":8.8,"y":40,"a":0,"b":0,"c":0},{"x":8.8,"y":44,"a":0,"b":0,"c":0},{"x":8.8,"y":48,"a":0,"b":0,"c":0},{"x":8.8,"y":52,"a":0,"b":0,"c":0},{"x":8.8,"y":56,"a":0,"b":0,"c":0},{"x":8.8,"y":60,"a":0,"b":0,"c":0},{"x":8.8,"y":64,"a":0,"b":0,"c":0},{"x":8.8,"y":68,"a":0,"b":0,"c":0}
]
},
"vconcat":[
{
"columns":3,"bounds":"flush","align":"each","spacing":{"row":26,"column":39},
"concat":[
{"data":{"values":[]},"mark":"point","width":15,"height":48},
{"width":391,"height":48,"data":{"name":"ts"},"title":{"text":"Nonlinear Simulated Data","offset":-11},
 "mark":{"type":"line","color":"#000","strokeWidth":1},
 "encoding":{"x":{"field":"t","type":"quantitative","scale":{"domain":[0,3],"nice":false},"axis":{"values":[0,1,2,3],"format":"d","title":null}},
 "y":{"field":"r","type":"quantitative","scale":{"domain":[-5.6,8],"nice":false,"zero":false},"axis":{"values":[-5,0,5],"format":"d","title":"Voltage (µV)","titlePadding":53,"titleFontSize":14}}}},
{"width":80,"height":48,"data":{"name":"sp"},"transform":[{"filter":"datum.g==1"}],"title":{"text":"Power Spectrum","fontSize":16,"offset":-1},
 "mark":{"type":"line","color":"#0000ff","strokeWidth":1.4},
 "encoding":{"x":{"field":"f","type":"quantitative","scale":{"domain":[0,120],"nice":false},"axis":{"values":[0,40,80,120],"format":"d","title":null}},
 "y":{"field":"v","type":"quantitative","scale":{"domain":[0,4],"nice":false},"axis":{"values":[0,2,4],"format":"d","title":"Power","titleFontSize":14,"titlePadding":6}}}},

{"data":{"values":[]},"mark":"point","width":15,"height":48},
{"width":391,"height":48,"title":{"text":"VMD Components","offset":-14},
 "layer":[
 {"data":{"name":"ts"},"mark":{"type":"line","color":"#000","strokeWidth":1},
  "encoding":{"x":{"field":"t","type":"quantitative","scale":{"domain":[0,3],"nice":false},"axis":{"values":[0,1,2,3],"format":"d","title":null}},
  "y":{"field":"c","type":"quantitative","scale":{"domain":[-5,5],"nice":false},"axis":{"values":[-5,0,5],"format":"d","title":"IMF1","titlePadding":5}}}},
 {"data":{"name":"ts"},"mark":{"type":"line","color":"#ff0000","strokeWidth":2},"encoding":{"x":{"field":"t","type":"quantitative"},"y":{"field":"e","type":"quantitative"}}},
 {"data":{"values":[{}]},"mark":{"type":"rule","color":"#000","strokeWidth":1.3},"encoding":{"x":{"datum":-0.445},"y":{"datum":0},"y2":{"datum":-10.4}}},
 {"data":{"values":[{}]},"mark":{"type":"rule","color":"#000","strokeWidth":1.3},"encoding":{"x":{"datum":-0.445},"x2":{"datum":-0.37},"y":{"datum":0}}},
 {"data":{"values":[{}]},"mark":{"type":"point","shape":"triangle-right","filled":true,"color":"#000","opacity":1,"size":35},"encoding":{"x":{"datum":-0.35},"y":{"datum":0}}}
 ]},
{"width":80,"height":48,"data":{"name":"sp"},"transform":[{"filter":"datum.g==2"}],
 "mark":{"type":"line","color":"#0000ff","strokeWidth":1.4},
 "encoding":{"x":{"field":"f","type":"quantitative","scale":{"domain":[0,120],"nice":false},"axis":{"values":[0,40,80,120],"format":"d","title":null}},
 "y":{"field":"v","type":"quantitative","scale":{"domain":[0,4],"nice":false},"axis":{"values":[0,2,4],"format":"d","title":"Power","titleFontSize":14,"titlePadding":6}}}},

{"data":{"values":[]},"mark":"point","width":15,"height":48},
{"width":391,"height":48,
 "layer":[
 {"data":{"name":"ts"},"mark":{"type":"line","color":"#000","strokeWidth":1},
  "encoding":{"x":{"field":"t","type":"quantitative","scale":{"domain":[0,3],"nice":false},"axis":{"values":[0,1,2,3],"format":"d","title":null}},
  "y":{"field":"s","type":"quantitative","scale":{"domain":[-4,4],"nice":false},"axis":{"values":[-4,0,4],"format":"d","title":"IMF2","titlePadding":5}}}},
 {"data":{"name":"ts"},"mark":{"type":"line","color":"#a64dff","strokeWidth":1.5},"encoding":{"x":{"field":"t","type":"quantitative"},"y":{"field":"p","type":"quantitative"}}},
 {"data":{"values":[{}]},"mark":{"type":"rule","color":"#000","strokeWidth":1.3},"encoding":{"x":{"datum":-0.445},"y":{"datum":0},"y2":{"datum":4}}},
 {"data":{"values":[{}]},"mark":{"type":"rule","color":"#000","strokeWidth":1.3},"encoding":{"x":{"datum":-0.445},"x2":{"datum":-0.335},"y":{"datum":0}}},
 {"data":{"values":[{}]},"mark":{"type":"point","shape":"triangle-right","filled":true,"color":"#000","opacity":1,"size":35},"encoding":{"x":{"datum":-0.315},"y":{"datum":0}}}
 ]},
{"width":80,"height":48,"data":{"name":"sp"},"transform":[{"filter":"datum.g==3"}],
 "mark":{"type":"line","color":"#0000ff","strokeWidth":1.4},
 "encoding":{"x":{"field":"f","type":"quantitative","scale":{"domain":[0,120],"nice":false},"axis":{"values":[0,40,80,120],"format":"d","title":null}},
 "y":{"field":"v","type":"quantitative","scale":{"domain":[0,4],"nice":false},"axis":{"values":[0,2,4],"format":"d","title":"Power","titleFontSize":14,"titlePadding":6}}}},

{"data":{"values":[]},"mark":"point","width":15,"height":48},
{"width":391,"height":48,"title":{"text":"EEMD Components","offset":-14},
 "layer":[
 {"data":{"name":"ts"},"mark":{"type":"line","color":"#444444","strokeWidth":0.6},
  "encoding":{"x":{"field":"t","type":"quantitative","scale":{"domain":[0,3],"nice":false},"axis":{"values":[0,1,2,3],"format":"d","title":null}},
  "y":{"field":"c","type":"quantitative","scale":{"domain":[-5,5],"nice":false},"axis":{"values":[-5,0,5],"format":"d","title":"IMF1","titlePadding":5}}}},
 {"data":{"name":"ts"},"mark":{"type":"line","color":"#ff0000","strokeWidth":1.6},"encoding":{"x":{"field":"t","type":"quantitative"},"y":{"field":"j","type":"quantitative"}}},
 {"data":{"values":[{}]},"mark":{"type":"rule","color":"#000","strokeWidth":1.3},"encoding":{"x":{"datum":-0.445},"y":{"datum":0},"y2":{"datum":-10.4}}},
 {"data":{"values":[{}]},"mark":{"type":"rule","color":"#000","strokeWidth":1.3},"encoding":{"x":{"datum":-0.445},"x2":{"datum":-0.37},"y":{"datum":0}}},
 {"data":{"values":[{}]},"mark":{"type":"point","shape":"triangle-right","filled":true,"color":"#000","opacity":1,"size":35},"encoding":{"x":{"datum":-0.35},"y":{"datum":0}}}
 ]},
{"width":80,"height":48,"data":{"name":"sp"},"transform":[{"filter":"datum.g==4"}],
 "mark":{"type":"line","color":"#0000ff","strokeWidth":1.4},
 "encoding":{"x":{"field":"f","type":"quantitative","scale":{"domain":[0,120],"nice":false},"axis":{"values":[0,40,80,120],"format":"d","title":null}},
 "y":{"field":"v","type":"quantitative","scale":{"domain":[0,4],"nice":false},"axis":{"values":[0,2,4],"format":"d","title":"Power","titleFontSize":14,"titlePadding":6}}}},

{"data":{"values":[]},"mark":"point","width":15,"height":48},
{"width":391,"height":48,
 "layer":[
 {"data":{"name":"ts"},"mark":{"type":"line","color":"#555555","strokeWidth":0.7},
  "encoding":{"x":{"field":"t","type":"quantitative","scale":{"domain":[0,3],"nice":false},"axis":{"values":[0,1,2,3],"format":"d","title":null}},
  "y":{"field":"s","type":"quantitative","scale":{"domain":[-4,4],"nice":false},"axis":{"values":[-4,0,4],"format":"d","title":"IMF2","titlePadding":5}}}},
 {"data":{"name":"ts"},"mark":{"type":"line","color":"#a64dff","strokeWidth":1.5},"encoding":{"x":{"field":"t","type":"quantitative"},"y":{"field":"p","type":"quantitative"}}},
 {"data":{"values":[{}]},"mark":{"type":"rule","color":"#000","strokeWidth":1.3},"encoding":{"x":{"datum":-0.445},"y":{"datum":0},"y2":{"datum":4}}},
 {"data":{"values":[{}]},"mark":{"type":"rule","color":"#000","strokeWidth":1.3},"encoding":{"x":{"datum":-0.445},"x2":{"datum":-0.335},"y":{"datum":0}}},
 {"data":{"values":[{}]},"mark":{"type":"point","shape":"triangle-right","filled":true,"color":"#000","opacity":1,"size":35},"encoding":{"x":{"datum":-0.315},"y":{"datum":0}}}
 ]},
{"width":80,"height":48,"data":{"name":"sp"},"transform":[{"filter":"datum.g==5"}],
 "mark":{"type":"line","color":"#0000ff","strokeWidth":1.4},
 "encoding":{"x":{"field":"f","type":"quantitative","scale":{"domain":[0,120],"nice":false},"axis":{"values":[0,40,80,120],"format":"d","title":null}},
 "y":{"field":"v","type":"quantitative","scale":{"domain":[0,4],"nice":false},"axis":{"values":[0,2,4],"format":"d","title":"Power","titleFontSize":14,"titlePadding":6}}}},

{"data":{"values":[]},"mark":"point","width":15,"height":48},
{"width":391,"height":48,"title":{"text":"IF Components","offset":-14},
 "layer":[
 {"data":{"name":"ts"},"mark":{"type":"line","color":"#444444","strokeWidth":0.6},
  "encoding":{"x":{"field":"t","type":"quantitative","scale":{"domain":[0,3],"nice":false},"axis":{"values":[0,1,2,3],"format":"d","title":null}},
  "y":{"field":"c","type":"quantitative","scale":{"domain":[-5,5],"nice":false},"axis":{"values":[-5,0,5],"format":"d","title":"IMF1","titlePadding":5}}}},
 {"data":{"name":"ts"},"mark":{"type":"line","color":"#ff0000","strokeWidth":1.6},"encoding":{"x":{"field":"t","type":"quantitative"},"y":{"field":"j","type":"quantitative"}}},
 {"data":{"values":[{}]},"mark":{"type":"rule","color":"#000","strokeWidth":1.3},"encoding":{"x":{"datum":-0.445},"y":{"datum":0},"y2":{"datum":-10.4}}},
 {"data":{"values":[{}]},"mark":{"type":"rule","color":"#000","strokeWidth":1.3},"encoding":{"x":{"datum":-0.445},"x2":{"datum":-0.37},"y":{"datum":0}}},
 {"data":{"values":[{}]},"mark":{"type":"point","shape":"triangle-right","filled":true,"color":"#000","opacity":1,"size":35},"encoding":{"x":{"datum":-0.35},"y":{"datum":0}}}
 ]},
{"width":80,"height":48,"data":{"name":"sp"},"transform":[{"filter":"datum.g==6"}],
 "mark":{"type":"line","color":"#0000ff","strokeWidth":1.4},
 "encoding":{"x":{"field":"f","type":"quantitative","scale":{"domain":[0,120],"nice":false},"axis":{"values":[0,40,80,120],"format":"d","title":null}},
 "y":{"field":"v","type":"quantitative","scale":{"domain":[0,2],"nice":false},"axis":{"values":[0,1,2],"format":"d","title":"Power","titleFontSize":14,"titlePadding":6}}}},

{"data":{"values":[]},"mark":"point","width":15,"height":48},
{"width":391,"height":48,
 "layer":[
 {"data":{"name":"ts"},"mark":{"type":"line","color":"#555555","strokeWidth":0.7},
  "encoding":{"x":{"field":"t","type":"quantitative","scale":{"domain":[0,3],"nice":false},"axis":{"values":[0,1,2,3],"format":"d","title":["Time (Sec)","(a)"],"titleLineHeight":13,"titlePadding":-2}},
  "y":{"field":"s","type":"quantitative","scale":{"domain":[-4,4],"nice":false},"axis":{"values":[-4,0,4],"format":"d","title":"IMF2","titlePadding":5}}}},
 {"data":{"name":"ts"},"mark":{"type":"line","color":"#a64dff","strokeWidth":1.5},"encoding":{"x":{"field":"t","type":"quantitative"},"y":{"field":"p","type":"quantitative"}}},
 {"data":{"values":[{}]},"mark":{"type":"rule","color":"#000","strokeWidth":1.3},"encoding":{"x":{"datum":-0.445},"y":{"datum":0},"y2":{"datum":4}}},
 {"data":{"values":[{}]},"mark":{"type":"rule","color":"#000","strokeWidth":1.3},"encoding":{"x":{"datum":-0.445},"x2":{"datum":-0.335},"y":{"datum":0}}},
 {"data":{"values":[{}]},"mark":{"type":"point","shape":"triangle-right","filled":true,"color":"#000","opacity":1,"size":35},"encoding":{"x":{"datum":-0.315},"y":{"datum":0}}}
 ]},
{"width":80,"height":48,"data":{"name":"sp"},"transform":[{"filter":"datum.g==7"}],
 "mark":{"type":"line","color":"#0000ff","strokeWidth":1.4},
 "encoding":{"x":{"field":"f","type":"quantitative","scale":{"domain":[0,120],"nice":false},"axis":{"values":[0,40,80,120],"format":"d","title":"Frequency (Hz)","titlePadding":1}},
 "y":{"field":"v","type":"quantitative","scale":{"domain":[0,4],"nice":false},"axis":{"values":[0,2,4],"format":"d","title":"Power","titleFontSize":14,"titlePadding":6}}}}
]
},
{
"bounds":"flush","spacing":62,"resolve":{"scale":{"color":"independent"}},
"hconcat":[
{"width":105,"height":105,"data":{"name":"pac"},"title":{"text":"PAC (VMD)","fontSize":12,"offset":0},"view":{"stroke":"#c0c4e0","strokeWidth":1,"fill":"#2e3192"},
 "mark":"rect",
 "encoding":{
 "x":{"field":"x","type":"ordinal","scale":{"padding":0},"axis":{"values":[3.2,6,8.8],"labelAngle":0,"title":["Phase Freq. (Hz)","(b)"],"ticks":false,"domain":false,"labelPadding":2,"labelFontSize":11,"labelFontWeight":"bold","titleFontSize":12,"titleLineHeight":18,"titlePadding":9}},
 "y":{"field":"y","type":"ordinal","sort":"descending","scale":{"padding":0},"axis":{"values":[12,40,68],"title":"Amp. Freq. (Hz)","ticks":false,"domain":false,"labelPadding":2,"labelFontSize":11,"labelFontWeight":"bold","titleFontSize":12,"titlePadding":4}},
 "color":{"field":"a","type":"quantitative","scale":{"domain":[0,0.0216],"range":["#2e3192","#1b6ee0","#1bb0c8","#22b24c","#9ad66a","#f3f18e","#cdb46c","#8a6450","#a48a84","#d8ccca","#ffffff"]},"legend":{"values":[0,0.01,0.02],"format":"~g","title":null}}}},
{"width":105,"height":105,"data":{"name":"pac"},"title":{"text":"PAC (EEMD)","fontSize":12,"offset":0},"view":{"stroke":"#c0c4e0","strokeWidth":1,"fill":"#2e3192"},
 "mark":"rect",
 "encoding":{
 "x":{"field":"x","type":"ordinal","scale":{"padding":0},"axis":{"values":[3.2,6,8.8],"labelAngle":0,"title":["Phase Freq. (Hz)","(c)"],"ticks":false,"domain":false,"labelPadding":2,"labelFontSize":11,"labelFontWeight":"bold","titleFontSize":12,"titleLineHeight":18,"titlePadding":9}},
 "y":{"field":"y","type":"ordinal","sort":"descending","scale":{"padding":0},"axis":{"values":[12,40,68],"title":"Amp. Freq. (Hz)","ticks":false,"domain":false,"labelPadding":2,"labelFontSize":11,"labelFontWeight":"bold","titleFontSize":12,"titlePadding":4}},
 "color":{"field":"b","type":"quantitative","scale":{"domain":[0,0.0216],"range":["#2e3192","#1b6ee0","#1bb0c8","#22b24c","#9ad66a","#f3f18e","#cdb46c","#8a6450","#a48a84","#d8ccca","#ffffff"]},"legend":{"values":[0,0.01,0.02],"format":"~g","title":null}}}},
{"width":105,"height":105,"data":{"name":"pac"},"title":{"text":"PAC (IF)","fontSize":12,"offset":0},"view":{"stroke":"#c0c4e0","strokeWidth":1,"fill":"#2e3192"},
 "mark":"rect",
 "encoding":{
 "x":{"field":"x","type":"ordinal","scale":{"padding":0},"axis":{"values":[3.2,6,8.8],"labelAngle":0,"title":["Phase Freq. (Hz)","(d)"],"ticks":false,"domain":false,"labelPadding":2,"labelFontSize":11,"labelFontWeight":"bold","titleFontSize":12,"titleLineHeight":18,"titlePadding":9}},
 "y":{"field":"y","type":"ordinal","sort":"descending","scale":{"padding":0},"axis":{"values":[12,40,68],"title":"Amp. Freq. (Hz)","ticks":false,"domain":false,"labelPadding":2,"labelFontSize":11,"labelFontWeight":"bold","titleFontSize":12,"titlePadding":4}},
 "color":{"field":"c","type":"quantitative","scale":{"domain":[0,0.0216],"range":["#2e3192","#1b6ee0","#1bb0c8","#22b24c","#9ad66a","#f3f18e","#cdb46c","#8a6450","#a48a84","#d8ccca","#ffffff"]},"legend":{"values":[0,0.01,0.02],"format":"~g","title":null}}}}
]
}
],
"spacing":2
}
